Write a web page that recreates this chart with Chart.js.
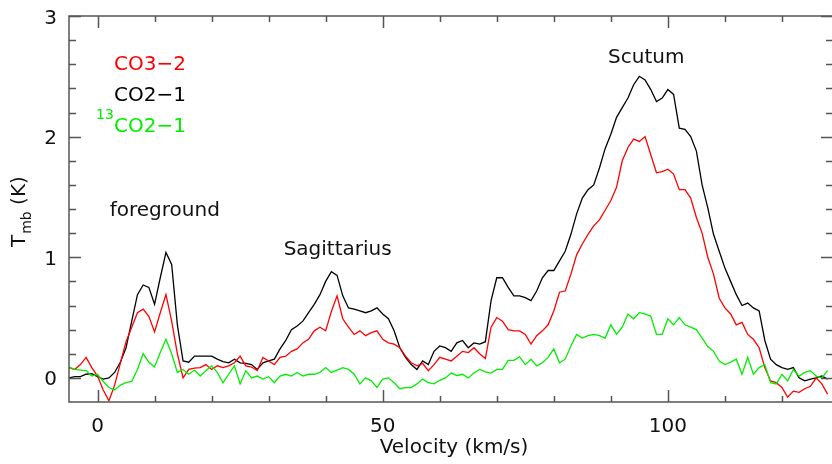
<!DOCTYPE html>
<html>
<head>
<meta charset="utf-8">
<title>CO spectra</title>
<script src="https://cdn.jsdelivr.net/npm/chart.js@4.4.0/dist/chart.umd.min.js"></script>
<style>
  body { margin: 0; background: #fff; }
  #wrap { width: 832px; height: 464px; }
</style>
</head>
<body>
<div id="wrap"><canvas id="spec" width="832" height="464"></canvas></div>
<script>
// velocity channels (km/s), one per km/s
var velocity = [];
for (var v = -5; v <= 128; v++) velocity.push(v);

// CO 2-1, black
var co21 = [
  0.00, 0.01, 0.01, 0.03, 0.035, 0.01, -0.01, 0.00, 0.045, 0.13,
  0.25, 0.47, 0.69, 0.77, 0.75, 0.61, 0.83, 1.04, 0.94, 0.44,
  0.14, 0.13, 0.18, 0.18, 0.18, 0.18, 0.155, 0.135, 0.125, 0.155,
  0.125, 0.12, 0.11, 0.07, 0.125, 0.14, 0.155, 0.24, 0.31, 0.40,
  0.43, 0.47, 0.54, 0.61, 0.69, 0.80, 0.88, 0.85, 0.68, 0.58,
  0.57, 0.555, 0.54, 0.555, 0.58, 0.53, 0.49, 0.39, 0.25, 0.17,
  0.11, 0.07, 0.14, 0.11, 0.22, 0.265, 0.25, 0.22, 0.29, 0.31,
  0.25, 0.29, 0.28, 0.30, 0.64, 0.83, 0.83, 0.75, 0.68, 0.68,
  0.665, 0.64, 0.72, 0.83, 0.89, 0.89, 0.97, 1.05, 1.19, 1.36,
  1.49, 1.56, 1.60, 1.74, 1.90, 2.02, 2.16, 2.24, 2.32, 2.43,
  2.50, 2.47, 2.39, 2.29, 2.32, 2.39, 2.35, 2.07, 2.06, 2.00,
  1.88, 1.60, 1.41, 1.19, 1.05, 0.91, 0.80, 0.69, 0.60, 0.62,
  0.58, 0.555, 0.31, 0.155, 0.11, 0.085, 0.07, 0.085, 0.00, -0.025,
  -0.01, 0.00, 0.015, -0.01
];

// CO 3-2, red
var co32 = [
  0.085, 0.07, 0.11, 0.17, 0.085, 0.015, -0.10, -0.19, -0.06, 0.12,
  0.30, 0.42, 0.54, 0.57, 0.51, 0.38, 0.54, 0.69, 0.47, 0.20,
  0.00, 0.07, 0.08, 0.085, 0.11, 0.07, 0.10, 0.085, 0.10, 0.125,
  0.18, 0.10, 0.09, 0.06, 0.17, 0.14, 0.11, 0.17, 0.18, 0.22,
  0.24, 0.29, 0.32, 0.39, 0.42, 0.39, 0.55, 0.68, 0.49, 0.42,
  0.36, 0.39, 0.35, 0.375, 0.39, 0.32, 0.29, 0.28, 0.25, 0.18,
  0.125, 0.10, 0.12, 0.06, 0.11, 0.17, 0.155, 0.14, 0.18, 0.22,
  0.21, 0.25, 0.20, 0.16, 0.42, 0.50, 0.47, 0.40, 0.39, 0.39,
  0.36, 0.28, 0.35, 0.39, 0.44, 0.555, 0.71, 0.72, 0.86, 1.02,
  1.11, 1.19, 1.26, 1.31, 1.39, 1.47, 1.58, 1.80, 1.91, 1.98,
  1.96, 2.00, 1.85, 1.70, 1.71, 1.73, 1.69, 1.56, 1.56, 1.49,
  1.33, 1.20, 1.00, 0.86, 0.66, 0.58, 0.53, 0.44, 0.46, 0.36,
  0.32, 0.25, 0.085, -0.025, -0.04, -0.08, -0.16, -0.11, -0.12, -0.09,
  -0.07, 0.00, -0.05, -0.135
];

// 13CO 2-1, green
var c13o21 = [
  0.09, 0.07, 0.065, 0.06, 0.015, 0.03, -0.03, -0.08, -0.10, -0.06,
  -0.04, -0.03, 0.07, 0.20, 0.13, 0.09, 0.21, 0.32, 0.20, 0.045,
  0.07, 0.03, 0.065, 0.015, 0.06, 0.10, 0.045, -0.04, 0.03, 0.10,
  -0.05, 0.06, 0.00, 0.015, -0.01, 0.01, -0.04, 0.015, 0.03, 0.015,
  0.045, 0.015, 0.03, 0.03, 0.045, 0.085, 0.045, 0.065, 0.085, 0.07,
  0.03, -0.05, 0.00, -0.025, -0.08, -0.01, 0.00, -0.04, -0.09, -0.08,
  -0.08, -0.05, -0.01, -0.04, -0.05, -0.02, 0.00, 0.04, 0.02, 0.03,
  0.00, 0.04, 0.07, 0.05, 0.04, 0.07, 0.07, 0.145, 0.145, 0.175,
  0.11, 0.155, 0.10, 0.125, 0.17, 0.24, 0.125, 0.155, 0.265, 0.36,
  0.33, 0.35, 0.36, 0.35, 0.33, 0.44, 0.36, 0.42, 0.53, 0.49,
  0.54, 0.53, 0.51, 0.36, 0.36, 0.49, 0.44, 0.50, 0.44, 0.42,
  0.40, 0.33, 0.26, 0.22, 0.14, 0.11, 0.13, 0.155, 0.03, 0.17,
  0.03, 0.085, 0.11, -0.04, -0.05, 0.03, -0.025, 0.07, 0.015, 0.045,
  0.06, 0.015, 0.00, 0.06
];

var xTicks = [0, 50, 100];
var yTicks = [0, 1, 2, 3];

// text placed on the plot, in data coordinates
var notes = [
  { text: "foreground", v: 11.8, t: 1.34 },
  { text: "Sagittarius", v: 42.1, t: 1.02 },
  { text: "Scutum", v: 96.2, t: 2.607 }
];

function pts(vals) {
  return vals.map(function (y, i) { return { x: velocity[i], y: y }; });
}

var FONT = "DejaVu Sans";

// frame with inward ticks, tick labels and texts
var frame = {
  id: "frame",
  afterDraw: function (chart) {
    var ctx = chart.ctx;
    var a = chart.chartArea;
    var xs = chart.scales.x;
    var ys = chart.scales.y;
    ctx.save();
    ctx.strokeStyle = "#555";
    ctx.lineWidth = 1.5;
    // right edge falls just off the picture, so only three sides
    ctx.beginPath();
    ctx.moveTo(a.right + 2, a.top);
    ctx.lineTo(a.left, a.top);
    ctx.lineTo(a.left, a.bottom);
    ctx.lineTo(a.right + 2, a.bottom);
    ctx.stroke();

    ctx.beginPath();
    var v, px, len;
    for (v = 0; v <= xs.max; v += 10) {
      px = Math.round(xs.getPixelForValue(v)) + 0.5;
      len = v % 50 === 0 ? 12 : 6;
      ctx.moveTo(px, a.bottom); ctx.lineTo(px, a.bottom - len);
      ctx.moveTo(px, a.top); ctx.lineTo(px, a.top + len);
    }
    for (v = 0; v <= 3.0001; v += 0.2) {
      px = Math.round(ys.getPixelForValue(v)) + 0.5;
      len = Math.abs(v - Math.round(v)) < 1e-6 ? 12 : 7;
      ctx.moveTo(a.left, px); ctx.lineTo(a.left + len, px);
      ctx.moveTo(a.right + 2, px); ctx.lineTo(a.right + 2 - len, px);
    }
    ctx.stroke();

    ctx.fillStyle = "#111";
    ctx.font = "20px " + FONT;
    ctx.textBaseline = "alphabetic";

    // tick labels
    ctx.textAlign = "center";
    xTicks.forEach(function (t) {
      ctx.fillText(String(t), xs.getPixelForValue(t), a.bottom + 30);
    });
    ctx.textAlign = "right";
    yTicks.forEach(function (t) {
      ctx.fillText(String(t), a.left - 12, ys.getPixelForValue(t) + 7.5);
    });

    ctx.textAlign = "center";
    notes.forEach(function (n) {
      ctx.fillText(n.text, xs.getPixelForValue(n.v), ys.getPixelForValue(n.t));
    });

    // series labels
    ctx.textAlign = "left";
    ctx.fillStyle = "#ff0000";
    ctx.fillText("CO3\u22122", 114, 70);
    ctx.fillStyle = "#000";
    ctx.fillText("CO2\u22121", 114, 101);
    ctx.fillStyle = "#00ee00";
    ctx.fillText("CO2\u22121", 114, 132);
    ctx.font = "14px " + FONT;
    ctx.fillText("13", 96, 119);

    // axis titles
    ctx.fillStyle = "#111";
    ctx.font = "20px " + FONT;
    ctx.textAlign = "center";
    ctx.fillText("Velocity (km/s)", 454, 453);

    ctx.translate(25, 247);
    ctx.rotate(-Math.PI / 2);
    ctx.textAlign = "left";
    ctx.fillText("T", 0, 0);
    var w = ctx.measureText("T").width;
    ctx.font = "14px " + FONT;
    ctx.fillText("mb", w + 1, 6);
    w += ctx.measureText("mb").width + 1;
    ctx.font = "20px " + FONT;
    ctx.fillText(" (K)", w, 0);
    ctx.restore();
  }
};

var chart = new Chart(document.getElementById("spec").getContext("2d"), {
  type: "line",
  data: {
    datasets: [
      { label: "13CO2-1", data: pts(c13o21), borderColor: "#00ee00", borderWidth: 1.3 },
      { label: "CO3-2", data: pts(co32), borderColor: "#ff0000", borderWidth: 1.3 },
      { label: "CO2-1", data: pts(co21), borderColor: "#000000", borderWidth: 1.3 }
    ]
  },
  options: {
    responsive: false,
    animation: false,
    parsing: false,
    elements: { point: { radius: 0 }, line: { tension: 0, fill: false } },
    layout: { padding: { left: 0, right: 1, top: 16, bottom: 0 } },
    plugins: { legend: { display: false }, tooltip: { enabled: false } },
    scales: {
      x: {
        type: "linear",
        min: -5,
        max: 128.6,
        grid: { display: false, drawTicks: false },
        border: { display: false },
        afterBuildTicks: function (s) {
          s.ticks = xTicks.map(function (t) { return { value: t }; });
        },
        afterFit: function (s) { s.height = 62; },
        ticks: { display: false }
      },
      y: {
        min: -0.2,
        max: 3,
        grid: { display: false, drawTicks: false },
        border: { display: false },
        afterBuildTicks: function (s) {
          s.ticks = yTicks.map(function (t) { return { value: t }; });
        },
        afterFit: function (s) { s.width = 69; },
        ticks: { display: false }
      }
    }
  },
  plugins: [frame]
});
</script>
</body>
</html>
